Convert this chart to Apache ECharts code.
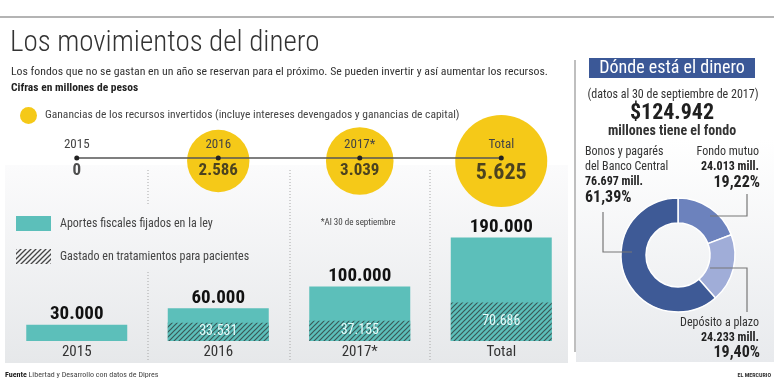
<!DOCTYPE html>
<html><head><meta charset="utf-8">
<script src="https://cdn.jsdelivr.net/npm/echarts@6/dist/echarts.min.js"></script>
<style>html,body{margin:0;padding:0;background:#fff}#c{width:774px;height:391px}</style>
</head><body><div id="c"></div>
<script>
// ---------- data ----------
const categories = ['2015', '2016', '2017*', 'Total'];
const aportes = [30000, 60000, 100000, 190000];
const gastado = [0, 33531, 37155, 70686];
const ganancias = [0, 2586, 3039, 5625];
const donutNames = ['Fondo mutuo', 'Depósito a plazo', 'Bonos y pagarés del Banco Central'];
const donutValues = [24013, 24233, 76697];
const fondoTotal = 124942;

const serieNames = {
  gan: 'Ganancias de los recursos invertidos (incluye intereses devengados y ganancias de capital)',
  apo: 'Aportes fiscales fijados en la ley',
  gas: 'Gastado en tratamientos para pacientes'
};

// ---------- helpers ----------
const NARROW = "'Liberation Sans Narrow','Roboto Condensed','DejaVu Sans Condensed',Roboto,sans-serif";
const fmt = v => String(v).replace(/\B(?=(\d{3})+(?!\d))/g, '.');
const donutSum = donutValues.reduce((a, b) => a + b, 0);
const pct = v => (v / donutSum * 100).toFixed(2).replace('.', ',') + '%';

const TEAL = '#5cbfba';
const YEL = '#f5c918';

function makeHatch(bg, stroke, lw) {
  const c = document.createElement('canvas');
  c.width = 5; c.height = 5;
  const x = c.getContext('2d');
  if (bg) { x.fillStyle = bg; x.fillRect(0, 0, 5, 5); }
  x.strokeStyle = stroke; x.lineWidth = lw;
  x.beginPath();
  x.moveTo(-1, 6); x.lineTo(6, -1);
  x.moveTo(-1, 1); x.lineTo(1, -1);
  x.moveTo(4, 6); x.lineTo(6, 4);
  x.stroke();
  return { image: c, repeat: 'repeat' };
}
const hatch = makeHatch(TEAL, '#3a5958', 1.2);
const hatchLegend = makeHatch(null, '#444', 1.3);

function txt(x, y, text, size, opts) {
  opts = opts || {};
  return {
    type: 'text', x: x, y: y, z: 20,
    style: {
      text: text, fontSize: size, fontFamily: opts.family || NARROW,
      fontWeight: opts.weight || 'normal', fill: opts.color || '#333',
      align: opts.align || 'left', verticalAlign: 'middle',
      textAlign: opts.align || 'left', textVerticalAlign: 'middle',
      rich: opts.rich
    }
  };
}
function vline(x, y1, y2, dashed) {
  return { type: 'line', z: 1, shape: { x1: x, y1: y1, x2: x, y2: y2 },
    style: { stroke: '#a8a8a8', lineWidth: 1, lineDash: dashed ? [1, 2] : null } };
}
function poly(points) {
  return { type: 'polyline', z: 20, shape: { points: points }, style: { stroke: '#777', lineWidth: 1.2, fill: null } };
}

const maxGan = Math.max.apply(null, ganancias);
const ganData = ganancias.map((v, i) => [categories[i], 0.5]);
const valData = ganancias.map((v, i) => i === 3
  ? { value: [categories[i], 0.5], label: { fontSize: 22 } }
  : [categories[i], 0.5]);

const chart = echarts.init(document.getElementById('c'));
chart.setOption({
  animation: false,
  textStyle: { fontFamily: NARROW },
  grid: [
    { left: 6, right: 202, top: 232, bottom: 50 },
    { left: 6, right: 202, top: 148, height: 20 }
  ],
  xAxis: [
    { type: 'category', gridIndex: 0, data: categories,
      axisLine: { show: false }, axisTick: { show: false },
      axisLabel: { fontSize: 15, color: '#333', margin: 4, fontFamily: NARROW } },
    { type: 'category', gridIndex: 1, data: categories, show: false }
  ],
  yAxis: [
    { type: 'value', gridIndex: 0, min: 0, max: 200000, show: false },
    { type: 'value', gridIndex: 1, min: 0, max: 1, show: false }
  ],
  legend: [
    { data: [serieNames.gan], left: 20, top: 107, padding: 0, icon: 'circle',
      itemWidth: 17, itemHeight: 17, selectedMode: false,
      textStyle: { fontSize: 11.5, color: '#444', fontFamily: NARROW, padding: [0, 0, 0, 3] } },
    { data: [serieNames.apo], left: 16, top: 216, padding: 0, icon: 'rect',
      itemWidth: 35, itemHeight: 15, selectedMode: false,
      textStyle: { fontSize: 12, color: '#444', fontFamily: NARROW, padding: [0, 0, 0, 4] } },
    { data: [{ name: serieNames.gas, itemStyle: { color: hatchLegend } }], left: 16, top: 249, padding: 0, icon: 'rect',
      itemWidth: 35, itemHeight: 15, selectedMode: false,
      textStyle: { fontSize: 12, color: '#444', fontFamily: NARROW, padding: [0, 0, 0, 4] } }
  ],
  series: [
    { name: serieNames.apo, type: 'bar', xAxisIndex: 0, yAxisIndex: 0, data: aportes,
      barWidth: 101, itemStyle: { color: TEAL }, z: 2,
      label: { show: true, position: 'top', distance: 1, formatter: p => fmt(p.value),
        fontSize: 19, fontWeight: 'bold', color: '#111', fontFamily: NARROW } },
    { name: serieNames.gas, type: 'bar', xAxisIndex: 0, yAxisIndex: 0, data: gastado,
      barWidth: 101, barGap: '-100%', itemStyle: { color: hatch }, z: 3,
      label: { show: true, position: 'inside', formatter: p => p.value ? fmt(p.value) : '',
        fontSize: 14, color: '#e6fbfa', fontFamily: NARROW } },
    { name: serieNames.gan, type: 'scatter', xAxisIndex: 1, yAxisIndex: 1, data: ganData,
      symbolSize: (val, p) => 92 * Math.sqrt(ganancias[p.dataIndex] / maxGan),
      symbolOffset: [0, 3], itemStyle: { color: YEL, opacity: 1 }, z: 4 },
    { type: 'line', xAxisIndex: 1, yAxisIndex: 1, data: categories.map(() => 0.5),
      lineStyle: { color: '#555', width: 1.5 }, symbol: 'circle', symbolSize: 5,
      itemStyle: { color: '#222' }, z: 6,
      label: { show: true, position: 'top', distance: 4, formatter: '{b}',
        fontSize: 13, color: '#444', fontFamily: NARROW } },
    { type: 'scatter', xAxisIndex: 1, yAxisIndex: 1, data: valData, symbolSize: 1,
      itemStyle: { color: 'rgba(0,0,0,0)' }, z: 7,
      label: { show: true, position: 'bottom', distance: 4,
        formatter: p => fmt(ganancias[p.dataIndex]),
        fontSize: 17, fontWeight: 'bold', color: '#222', fontFamily: NARROW } },
    { type: 'pie', center: [678, 255], radius: [32, 57], startAngle: 90, clockwise: true,
      data: donutNames.map((n, i) => ({ name: n, value: donutValues[i] })),
      color: ['#6c82bd', '#a0add8', '#3e5a96'],
      itemStyle: { borderColor: '#fff', borderWidth: 1.5 },
      label: { show: false }, labelLine: { show: false }, z: 5 }
  ],
  graphic: [
    { type: 'line', z: 1, shape: { x1: 0, y1: 17, x2: 774, y2: 17 }, style: { stroke: '#b4b4b4', lineWidth: 2 } },
    { type: 'rect', z: 0, shape: { x: 5, y: 165, width: 563, height: 198 },
      style: { fill: new echarts.graphic.LinearGradient(0, 0, 0, 1, [
        { offset: 0, color: '#fbfbfc' }, { offset: 1, color: '#e6e8ea' }]) } },
    { type: 'rect', z: 0, shape: { x: 576, y: 140, width: 198, height: 222 },
      style: { fill: new echarts.graphic.LinearGradient(0, 0, 0, 1, [
        { offset: 0, color: '#ffffff' }, { offset: 1, color: '#e8eaed' }]) } },
    vline(148, 170, 206, true), vline(148, 272, 360, true),
    vline(290, 170, 360, true), vline(430, 170, 360, true),
    { type: 'line', z: 1, shape: { x1: 575, y1: 60, x2: 575, y2: 352 }, style: { stroke: '#aaa', lineWidth: 1.5 } },
    txt(10, 44, 'Los movimientos del dinero', 29, { color: '#333', weight: 300 }),
    txt(11, 72, 'Los fondos que no se gastan en un año se reservan para el próximo. Se pueden invertir y así aumentar los recursos.', 11.8, { color: '#333' }),
    txt(11, 88, 'Cifras en millones de pesos', 11.5, { weight: 'bold', color: '#222' }),
    txt(358, 223, '*Al 30 de septiembre', 9, { align: 'center', color: '#444' }),
    { type: 'rect', z: 10, shape: { x: 589, y: 58, width: 166, height: 20 }, style: { fill: '#3b5897' } },
    txt(672, 68, 'Dónde está el dinero', 18, { align: 'center', color: '#fff' }),
    txt(673, 95, '(datos al 30 de septiembre de 2017)', 12, { align: 'center', color: '#333' }),
    txt(672, 113, '$' + fmt(fondoTotal), 22, { align: 'center', weight: 'bold', color: '#1f1f1f' }),
    txt(672, 131, 'millones tiene el fondo', 14, { align: 'center', weight: 'bold', color: '#333' }),
    txt(585, 152, 'Bonos y pagarés', 12, { color: '#333' }),
    txt(585, 167, 'del Banco Central', 12, { color: '#333' }),
    txt(585, 182, fmt(donutValues[2]) + ' mill.', 12, { weight: 'bold', color: '#222' }),
    txt(585, 198, pct(donutValues[2]), 16, { weight: 'bold', color: '#222' }),
    txt(759, 152, 'Fondo mutuo', 12, { align: 'right', color: '#333' }),
    txt(759, 167, fmt(donutValues[0]) + ' mill.', 12, { align: 'right', weight: 'bold', color: '#222' }),
    txt(760, 183, pct(donutValues[0]), 16, { align: 'right', weight: 'bold', color: '#222' }),
    txt(759, 323, 'Depósito a plazo', 12, { align: 'right', color: '#333' }),
    txt(759, 338, fmt(donutValues[1]) + ' mill.', 12, { align: 'right', weight: 'bold', color: '#222' }),
    txt(760, 353, pct(donutValues[1]), 16, { align: 'right', weight: 'bold', color: '#222' }),
    poly([[603, 212], [603, 252], [632, 252]]),
    poly([[710, 216], [747, 216], [747, 194]]),
    poly([[710, 268], [747, 268], [747, 312]]),
    txt(5, 375, '{b|Fuente} Libertad y Desarrollo con datos de Dipres', 8,
      { color: '#444', rich: { b: { fontWeight: 'bold', fontSize: 8, fontFamily: NARROW, fill: '#222' } } }),
    txt(771, 375, 'EL MERCURIO', 6, { align: 'right', weight: 'bold', color: '#333' })
  ]
});
</script>
</body></html>
